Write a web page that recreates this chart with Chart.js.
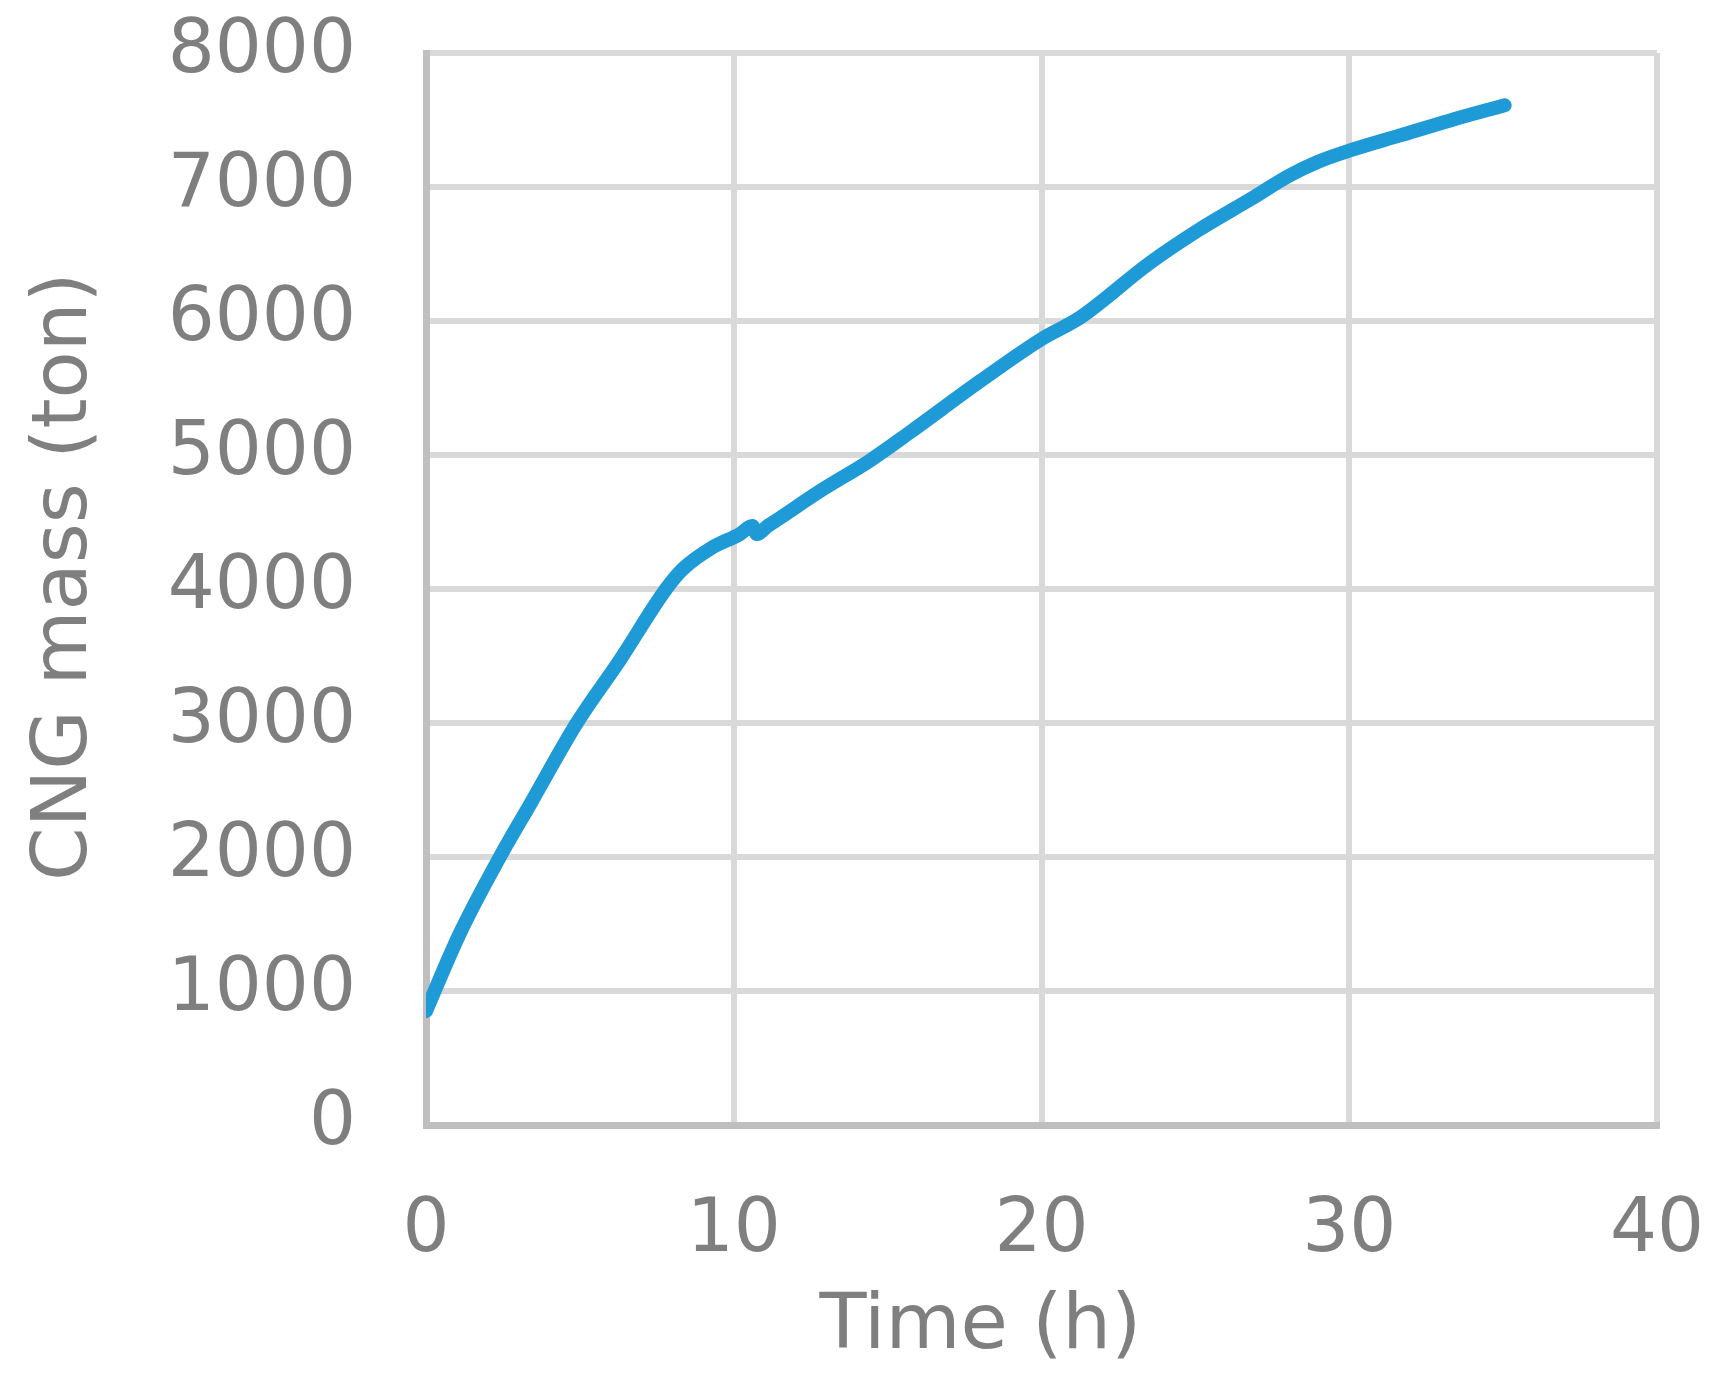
<!DOCTYPE html>
<html>
<head>
<meta charset="utf-8">
<script src="https://cdn.jsdelivr.net/npm/chart.js@4.4.1/dist/chart.umd.min.js"></script>
<style>
  html, body { margin: 0; padding: 0; background: #ffffff; }
  #wrap { width: 1721px; height: 1391px; }
</style>
</head>
<body>
<div id="wrap"><canvas id="c" width="1721" height="1391"></canvas></div>
<script>
// Data
const timeHours = [0, 1.1, 2.4, 3.4, 4.9, 6.3, 7.8, 8.35, 9.3, 10.2, 10.6, 10.75, 11.1, 11.5, 12.8, 14.4, 15.7, 18.0, 20.0, 21.25, 23.5, 25.15, 26.8, 28.05, 28.95, 30.05, 31.65, 33.25, 35.05];
const cngMassTon = [850, 1430, 2000, 2400, 3000, 3470, 4000, 4150, 4310, 4410, 4470, 4410, 4470, 4530, 4730, 4955, 5165, 5550, 5865, 6025, 6430, 6685, 6910, 7085, 7185, 7275, 7385, 7495, 7610];
const xAxisTitle = 'Time (h)';
const yAxisTitle = 'CNG mass (ton)';
const xTicks = [0, 10, 20, 30, 40];
const yTicks = [0, 1000, 2000, 3000, 4000, 5000, 6000, 7000, 8000];

const points = timeHours.map((t, i) => ({ x: t, y: cngMassTon[i] }));
const FONT = 'DejaVu Sans, Verdana, sans-serif';
const TEXT = '#7f7f7f';

function zeroPad(s) { s.paddingTop = 0; s.paddingBottom = 0; s.paddingLeft = 0; s.paddingRight = 0; }

new Chart(document.getElementById('c'), {
  type: 'line',
  data: {
    datasets: [{
      data: points,
      borderColor: '#1e9bd7',
      borderWidth: 14,
      borderCapStyle: 'round',
      borderJoinStyle: 'round',
      pointRadius: 0,
      cubicInterpolationMode: 'monotone',
      fill: false
    }]
  },
  options: {
    responsive: false,
    animation: false,
    devicePixelRatio: 1,
    layout: { padding: { top: 53, right: 64, left: 0, bottom: 0 } },
    plugins: { legend: { display: false }, tooltip: { enabled: false } },
    scales: {
      x: {
        type: 'linear',
        min: xTicks[0],
        max: xTicks[xTicks.length - 1],
        afterBuildTicks: (s) => { s.ticks = xTicks.map(v => ({ value: v })); },
        afterFit: (s) => { s.height = 266; zeroPad(s); },
        ticks: { color: TEXT, font: { family: FONT, size: 74 }, padding: 62, maxRotation: 0, callback: (v) => String(v) },
        grid: { color: '#d9d9d9', lineWidth: 6, drawTicks: false },
        border: { color: '#bfbfbf', width: 7 },
        title: { display: true, text: xAxisTitle + '     ', color: TEXT, font: { family: FONT, size: 77 }, padding: { top: 0, bottom: 17 } }
      },
      y: {
        min: yTicks[0],
        max: yTicks[yTicks.length - 1],
        afterBuildTicks: (s) => { s.ticks = yTicks.map(v => ({ value: v })); },
        afterFit: (s) => { s.width = 426; zeroPad(s); },
        ticks: { color: TEXT, font: { family: FONT, size: 74 }, padding: 70, callback: (v) => String(v) },
        grid: { color: '#d9d9d9', lineWidth: 6, drawTicks: false },
        border: { color: '#bfbfbf', width: 7 },
        title: { display: true, text: ' ' + yAxisTitle, color: TEXT, font: { family: FONT, size: 77 }, padding: { top: 20, bottom: 0 } }
      }
    }
  }
});
</script>
</body>
</html>
